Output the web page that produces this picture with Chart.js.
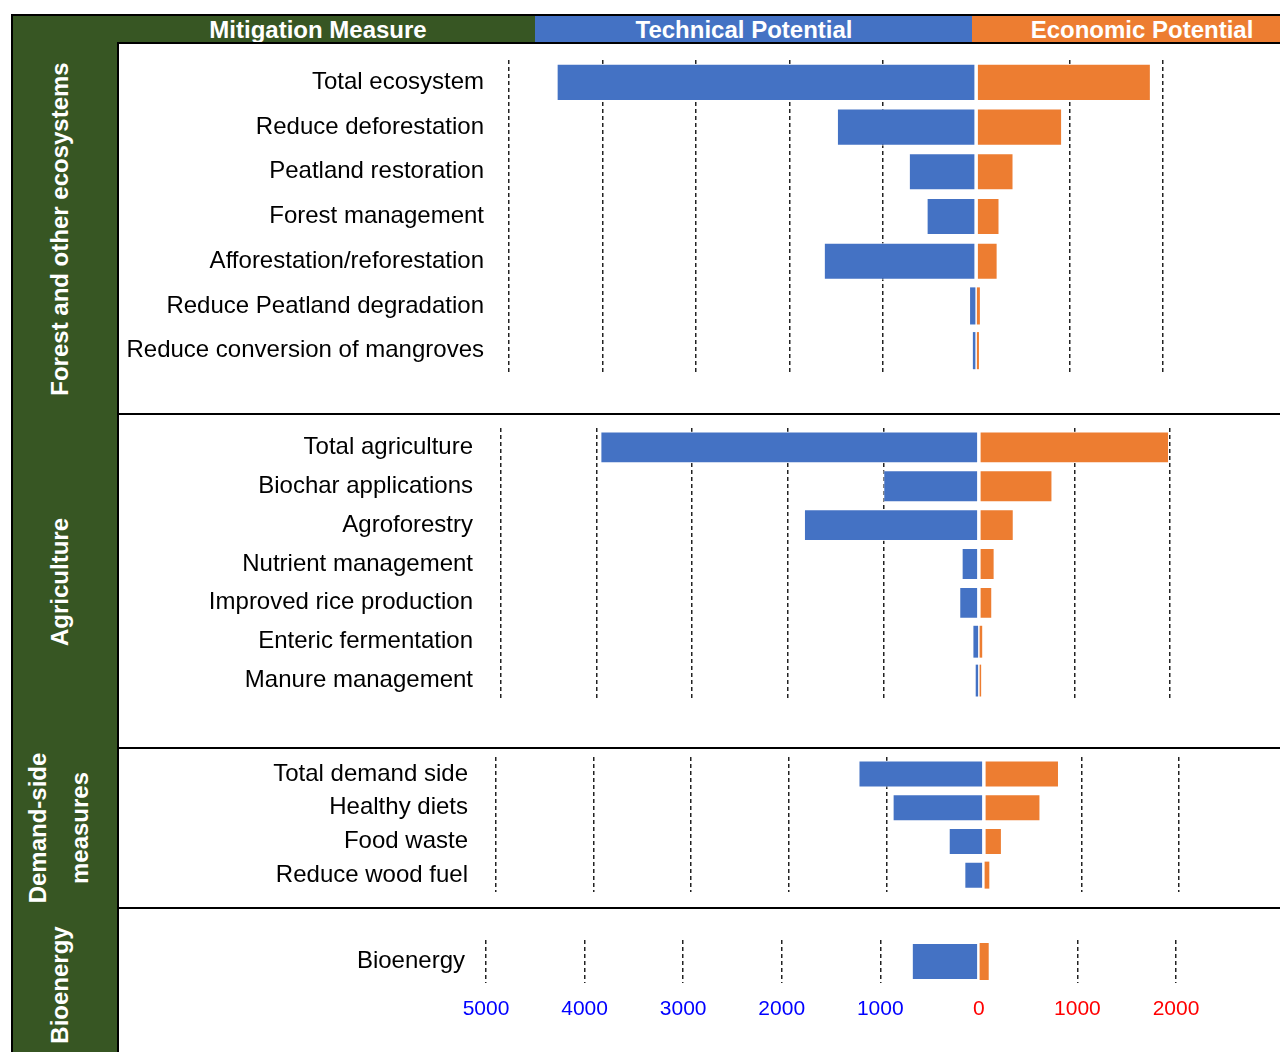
<!DOCTYPE html>
<html><head><meta charset="utf-8">
<script src="https://cdn.jsdelivr.net/npm/chart.js@4.4.1/dist/chart.umd.min.js"></script>
<style>
html,body{margin:0;padding:0;background:#fff;}
body{width:1280px;height:1052px;position:relative;overflow:hidden;font-family:"Liberation Sans",Arial,sans-serif;}
.abs{position:absolute;}
.hdrbg{position:absolute;top:15px;height:28px;}
.hdr{position:absolute;top:15px;height:28px;color:#fff;font-weight:bold;font-size:24px;line-height:29px;text-align:center;white-space:nowrap;}
.side{position:absolute;color:#fff;font-weight:bold;font-size:24px;white-space:nowrap;line-height:1;transform:translate(-50%,-50%) rotate(-90deg);}
.ln{position:absolute;background:#000;z-index:5;}
canvas{position:absolute;}
</style></head><body>
<div class="abs" style="left:12px;top:15px;width:107px;height:1037px;background:#375623"></div>
<div class="hdrbg" style="left:12px;width:523px;background:#375623"></div>
<div class="hdrbg" style="left:535px;width:437px;background:#4472C4"></div>
<div class="hdrbg" style="left:972px;width:308px;background:#ED7D31"></div>
<div class="hdr" style="left:118px;width:400px">Mitigation Measure</div>
<div class="hdr" style="left:544px;width:400px">Technical Potential</div>
<div class="hdr" style="left:942px;width:400px">Economic Potential</div>

<div class="side" style="left:60px;top:229px">Forest and other ecosystems</div>
<div class="side" style="left:60px;top:582px">Agriculture</div>
<div class="side" style="left:38px;top:828px">Demand-side</div>
<div class="side" style="left:80px;top:828px">measures</div>
<div class="side" style="left:60px;top:985px">Bioenergy</div>

<canvas id="c1" width="1161" height="371" style="left:119px;top:43px"></canvas>
<canvas id="c2" width="1161" height="334" style="left:119px;top:414px"></canvas>
<canvas id="c3" width="1161" height="160" style="left:119px;top:748px"></canvas>
<canvas id="c4" width="1161" height="144" style="left:119px;top:908px"></canvas>

<div class="ln" style="left:12px;top:14px;width:1268px;height:2px"></div>
<div class="ln" style="left:11px;top:14px;width:2px;height:1038px"></div>
<div class="ln" style="left:117px;top:43px;width:2px;height:1009px"></div>
<div class="ln" style="left:117px;top:42px;width:1163px;height:2px"></div>
<div class="ln" style="left:117px;top:413px;width:1163px;height:2px"></div>
<div class="ln" style="left:117px;top:747px;width:1163px;height:2px"></div>
<div class="ln" style="left:117px;top:907px;width:1163px;height:2px"></div>

<script>
// ---- Data ----
const forestLabels = ["Total ecosystem","Reduce deforestation","Peatland restoration","Forest management","Afforestation/reforestation","Reduce Peatland degradation","Reduce conversion of mangroves"];
const forestTech = [4490,1490,720,530,1630,65,35];
const forestEcon = [1870,920,400,250,230,40,30];

const agriLabels = ["Total agriculture","Biochar applications","Agroforestry","Nutrient management","Improved rice production","Enteric fermentation","Manure management"];
const agriTech = [3960,1000,1830,180,205,57,33];
const agriEcon = [1990,770,365,165,140,35,24];

const demandLabels = ["Total demand side","Healthy diets","Food waste","Reduce wood fuel"];
const demandTech = [1285,935,360,200];
const demandEcon = [770,580,185,56];

const bioLabels = ["Bioenergy"];
const bioTech = [680];
const bioEcon = [100];

const axisMin = -5000, axisMax = 2000, axisStep = 1000;

const FONT = '"Liberation Sans", Arial, sans-serif';

function bw(ctx){ const v = ctx.raw; return Math.abs(v) < 120 ? 0 : 1; }
function zeroPad(s){ s.paddingTop = 0; s.paddingBottom = 0; s.paddingLeft = 0; s.paddingRight = 0; }

function makeChart(id, labels, tech, econ, o){
  new Chart(document.getElementById(id), {
    type: 'bar',
    data: {
      labels: labels,
      datasets: [
        {label:'Technical Potential', data: tech.map(v => -v), backgroundColor:'#4472C4',
         borderColor:'rgba(255,255,255,0.85)', borderWidth: bw, borderSkipped:false,
         barPercentage:o.bar, categoryPercentage:1},
        {label:'Economic Potential', data: econ, backgroundColor:'#ED7D31',
         borderColor:'rgba(255,255,255,0.85)', borderWidth: bw, borderSkipped:false,
         barPercentage:o.bar, categoryPercentage:1}
      ]
    },
    options: {
      indexAxis: 'y',
      responsive: false,
      animation: false,
      devicePixelRatio: 1,
      layout: {padding: {left:0, top:o.top, bottom:o.bottom, right:o.right}},
      plugins: {legend:{display:false}, tooltip:{enabled:false}},
      scales: {
        x: {
          stacked: true, min: axisMin, max: axisMax,
          ticks: {
            display: o.showX, stepSize: axisStep, autoSkip:false, maxRotation:0,
            padding: 14,
            font: {family: FONT, size: 21},
            color: ctx => ctx.tick.value < 0 ? '#0000FF' : '#FF0000',
            callback: v => String(Math.abs(v))
          },
          grid: {
            drawTicks:false, lineWidth:1.5,
            color: ctx => (ctx.tick && ctx.tick.value === 0) ? 'rgba(0,0,0,0)' : '#222'
          },
          border: {display:false, dash:[4,3]},
          afterFit: s => { s.height = o.xh; zeroPad(s); }
        },
        y: {
          stacked: true,
          ticks: {autoSkip:false, padding:o.pad, color:'#000', font:{family:FONT, size:o.fs}},
          grid: {display:false, drawTicks:false},
          border: {display:false},
          afterFit: s => { s.width = o.yw; zeroPad(s); }
        }
      }
    }
  });
}

makeChart('c1', forestLabels, forestTech, forestEcon, {yw:390, top:17, bottom:41, right:117, pad:25, bar:0.83, showX:false, xh:0, fs:24});
makeChart('c2', agriLabels, agriTech, agriEcon, {yw:382, top:14, bottom:48, right:110, pad:28, bar:0.82, showX:false, xh:0, fs:24});
makeChart('c3', demandLabels, demandTech, demandEcon, {yw:377, top:9, bottom:16, right:101, pad:28, bar:0.8, showX:false, xh:0, fs:24});
makeChart('c4', bioLabels, bioTech, bioEcon, {yw:367, top:32, bottom:0, right:104, pad:21, bar:0.86, showX:true, xh:69, fs:24});
</script>
</body></html>
